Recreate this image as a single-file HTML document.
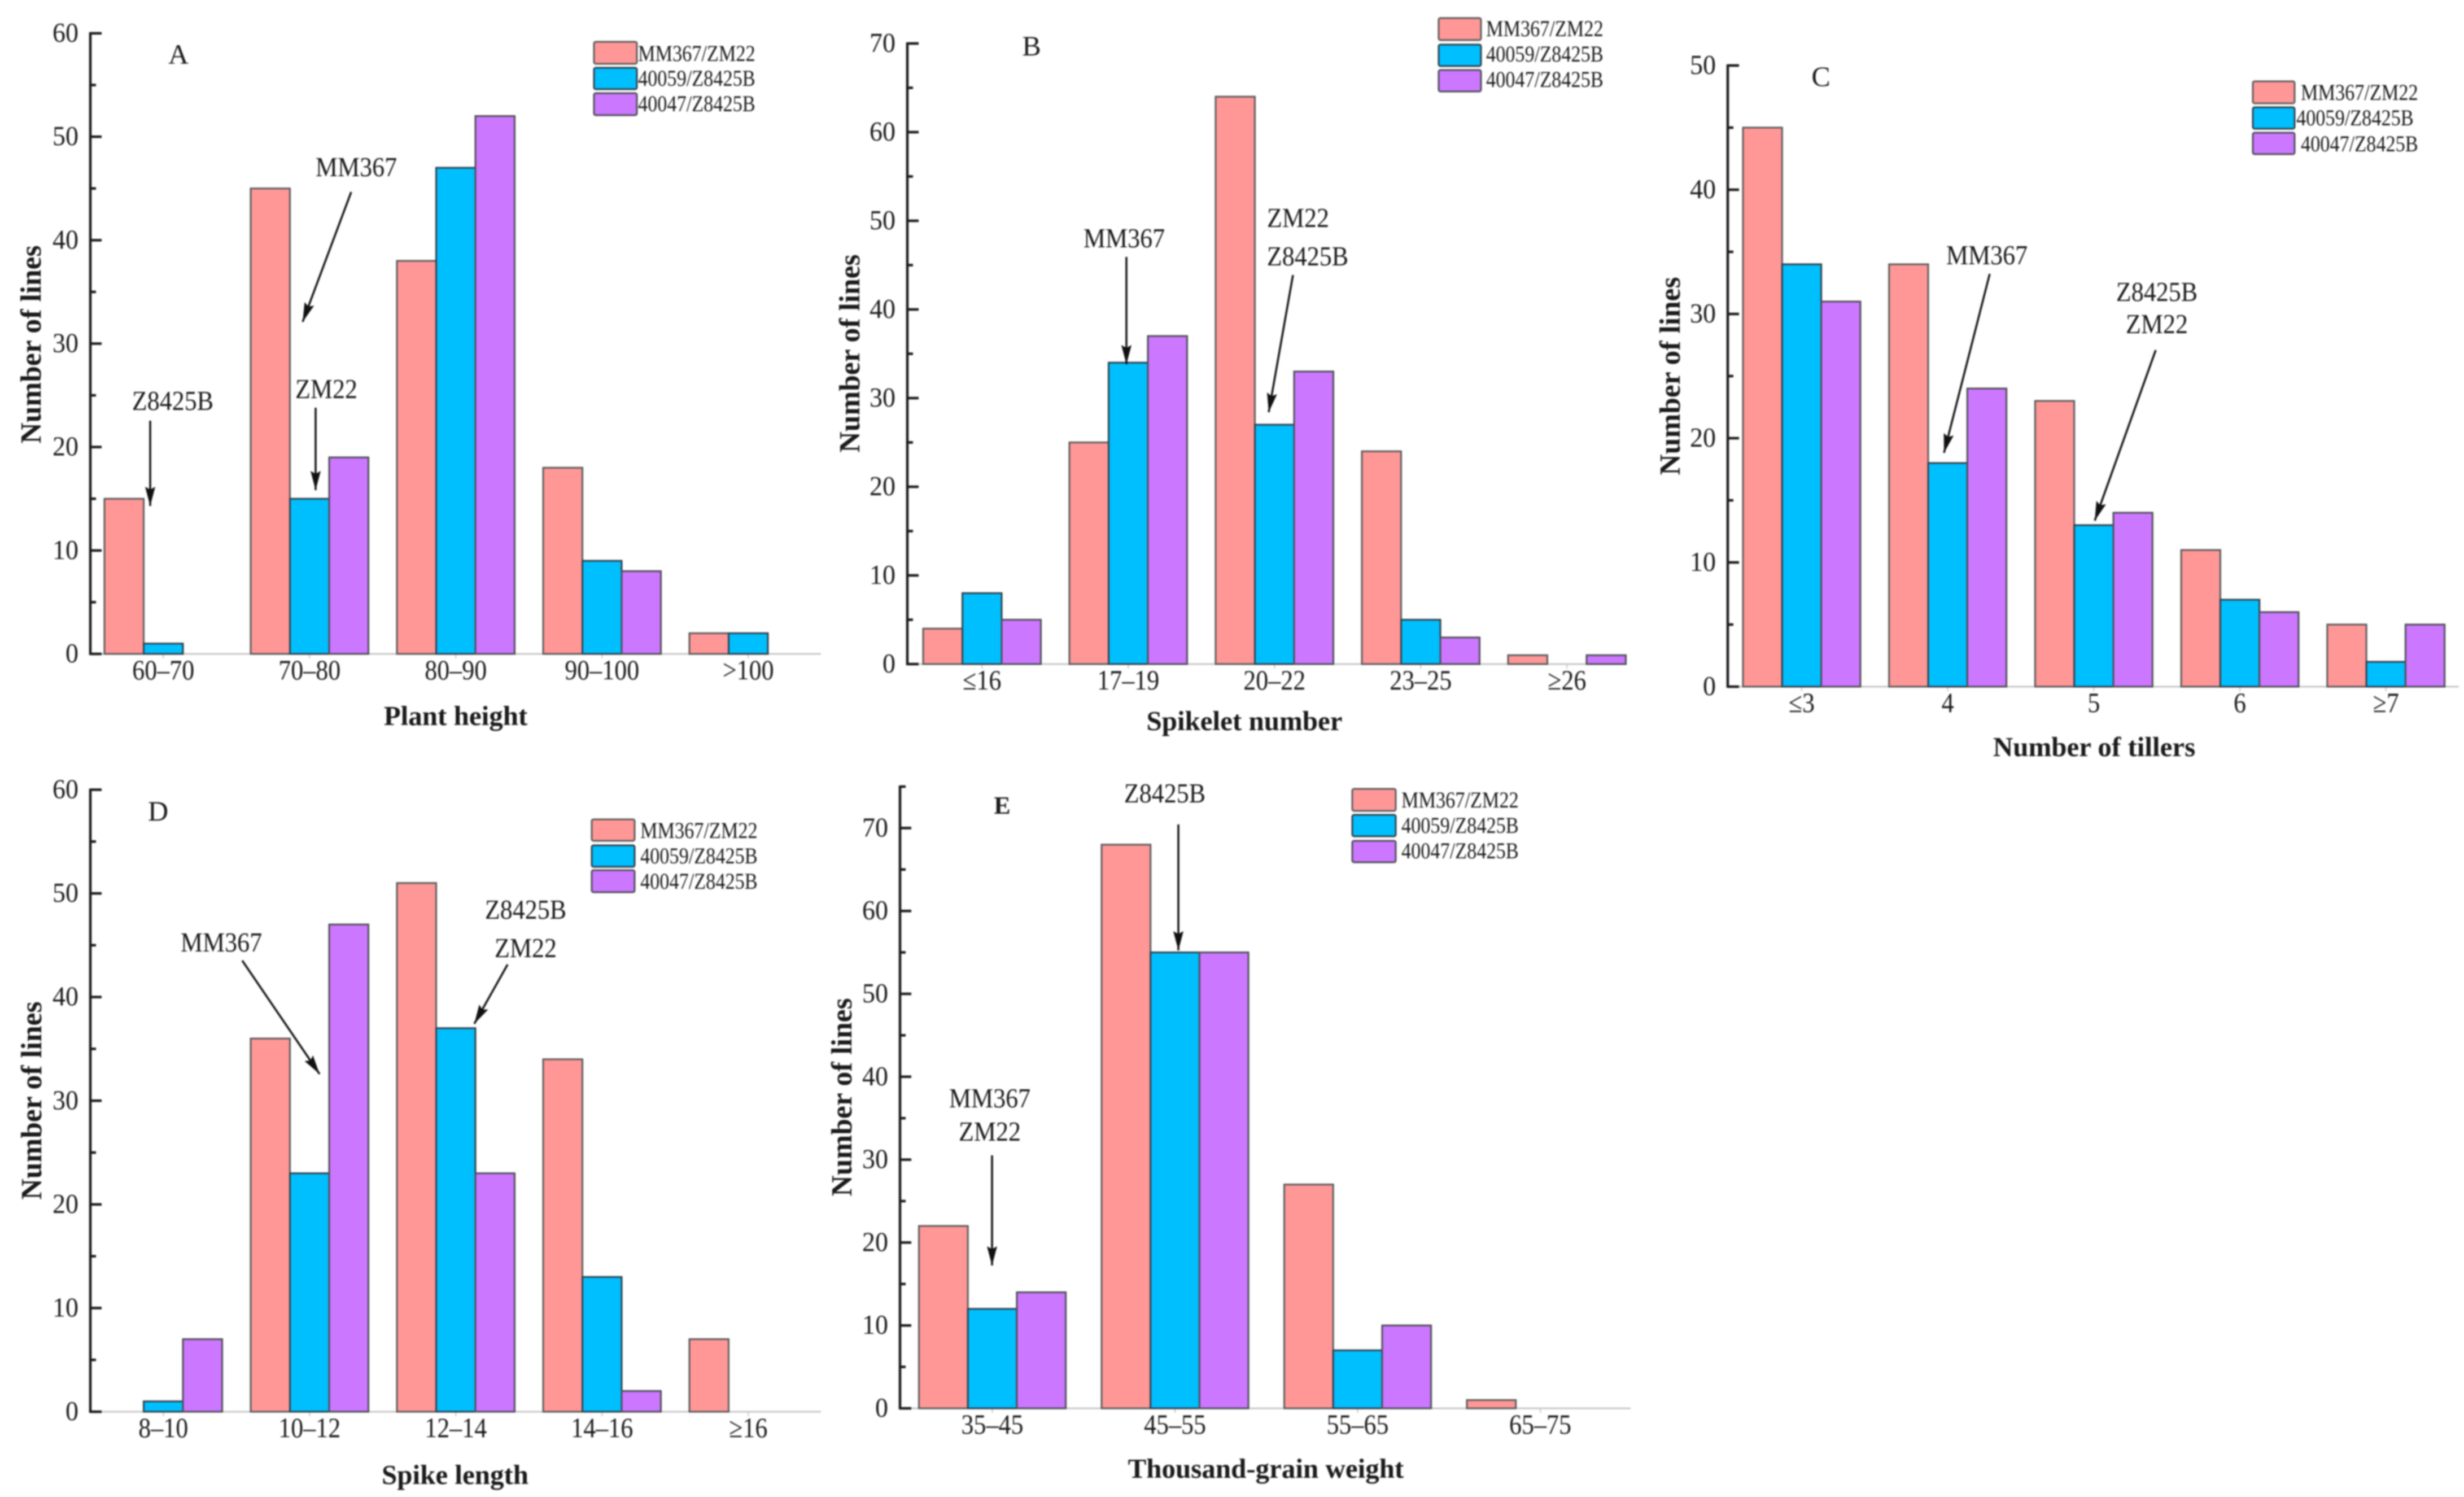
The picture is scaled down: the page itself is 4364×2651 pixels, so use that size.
<!DOCTYPE html>
<html lang="en">
<head>
<meta charset="utf-8">
<title>Distribution of agronomic traits</title>
<style>
  html, body { margin: 0; padding: 0; background: #fff; }
  svg { display: block; filter: blur(1.3px); }
  text { font-family: "Liberation Serif", serif; fill: #1a1a1a; }
  .ann { font-size: 44px; }
  .leg { font-size: 34.3px; }
  .title { font-size: 49px; font-weight: bold; }
  .ytitle { font-size: 51.5px; font-weight: bold; text-anchor: middle; }
  .letter { font-size: 50px; text-anchor: middle; }
  .arrow { stroke: #111; stroke-width: 3.5; marker-end: url(#arrowhead); fill: none; }
  .s1 { fill: #FF9797; stroke: #5a5a5a; stroke-width: 3; }
  .s2 { fill: #00BFFF; stroke: #2f3f4a; stroke-width: 3; }
  .s3 { fill: #CC77FF; stroke: #4d4d55; stroke-width: 3; }
</style>
</head>
<body>
<svg id="figure" xmlns="http://www.w3.org/2000/svg" width="4364" height="2651" viewBox="0 0 4364 2651">
  <defs>
    <marker id="arrowhead" markerUnits="userSpaceOnUse" markerWidth="36" markerHeight="20" refX="34" refY="10" orient="auto">
      <path d="M0,1 L34,10 L0,19 L5,10 Z" fill="#111"></path>
    </marker>
  </defs>
  <rect width="4364" height="2651" fill="#fff"></rect>

  <g id="plot-a"></g>
  <g id="plot-b"></g>
  <g id="plot-c"></g>
  <g id="plot-d"></g>
  <g id="plot-e"></g>

  <!-- Panel letters -->
  <text class="letter" x="316" y="113">A</text>
  <text class="letter" x="1827" y="98">B</text>
  <text class="letter" x="3225" y="152">C</text>
  <text class="letter" x="280" y="1453">D</text>
  <text class="letter" x="1775" y="1441" style="font-size:44px;font-weight:bold">E</text>

  <!-- X axis titles -->
  <text class="title" text-anchor="middle" x="807" y="1284">Plant height</text>
  <text class="title" text-anchor="middle" x="2204" y="1293">Spikelet number</text>
  <text class="title" text-anchor="middle" x="3709" y="1339">Number of tillers</text>
  <text class="title" text-anchor="middle" x="806" y="2628">Spike length</text>
  <text class="title" text-anchor="middle" x="2242" y="2617">Thousand-grain weight</text>

  <!-- Y axis titles -->
  <text class="ytitle" transform="translate(72,610) rotate(-90)">Number of lines</text>
  <text class="ytitle" transform="translate(1522,626) rotate(-90)">Number of lines</text>
  <text class="ytitle" transform="translate(2975,666) rotate(-90)">Number of lines</text>
  <text class="ytitle" transform="translate(73,1949) rotate(-90)">Number of lines</text>
  <text class="ytitle" transform="translate(1508,1943) rotate(-90)">Number of lines</text>

  <!-- Annotations A -->
  <g>
    <text class="ann" text-anchor="middle" transform="translate(631,312) scale(1,1.1)">MM367</text>
    <line class="arrow" x1="622" y1="340" x2="536" y2="570"></line>
    <text class="ann" text-anchor="middle" transform="translate(578,705) scale(1,1.1)">ZM22</text>
    <line class="arrow" x1="559" y1="722" x2="559" y2="868"></line>
    <text class="ann" text-anchor="middle" transform="translate(306,726) scale(1,1.1)">Z8425B</text>
    <line class="arrow" x1="266" y1="745" x2="266" y2="896"></line>
  </g>
  <!-- Annotations B -->
  <g>
    <text class="ann" text-anchor="middle" transform="translate(1991,438) scale(1,1.1)">MM367</text>
    <line class="arrow" x1="1995" y1="455" x2="1995" y2="645"></line>
    <text class="ann" text-anchor="middle" transform="translate(2299,402) scale(1,1.1)">ZM22</text>
    <text class="ann" text-anchor="middle" transform="translate(2316,470) scale(1,1.1)">Z8425B</text>
    <line class="arrow" x1="2290" y1="487" x2="2247" y2="730"></line>
  </g>
  <!-- Annotations C -->
  <g>
    <text class="ann" text-anchor="middle" transform="translate(3519,468) scale(1,1.1)">MM367</text>
    <line class="arrow" x1="3524" y1="485" x2="3443" y2="802"></line>
    <text class="ann" text-anchor="middle" transform="translate(3820,533) scale(1,1.1)">Z8425B</text>
    <text class="ann" text-anchor="middle" transform="translate(3820,590) scale(1,1.1)">ZM22</text>
    <line class="arrow" x1="3818" y1="620" x2="3710" y2="922"></line>
  </g>
  <!-- Annotations D -->
  <g>
    <text class="ann" text-anchor="middle" transform="translate(392,1685) scale(1,1.1)">MM367</text>
    <line class="arrow" x1="429" y1="1701" x2="566" y2="1902"></line>
    <text class="ann" text-anchor="middle" transform="translate(931,1627) scale(1,1.1)">Z8425B</text>
    <text class="ann" text-anchor="middle" transform="translate(931,1695) scale(1,1.1)">ZM22</text>
    <line class="arrow" x1="899" y1="1708" x2="840" y2="1813"></line>
  </g>
  <!-- Annotations E -->
  <g>
    <text class="ann" text-anchor="middle" transform="translate(2063,1421) scale(1,1.1)">Z8425B</text>
    <line class="arrow" x1="2087" y1="1460" x2="2087" y2="1683"></line>
    <text class="ann" text-anchor="middle" transform="translate(1753,1961) scale(1,1.1)">MM367</text>
    <text class="ann" text-anchor="middle" transform="translate(1753,2020) scale(1,1.1)">ZM22</text>
    <line class="arrow" x1="1757" y1="2046" x2="1757" y2="2241"></line>
  </g>

  <!-- Legend A -->
  <g>
    <rect class="s1" x="1052" y="74" width="76" height="39" rx="3"></rect>
    <text class="leg" transform="translate(1130,108) scale(1,1.18)">MM367/ZM22</text>
    <rect class="s2" x="1052" y="120" width="76" height="38" rx="3"></rect>
    <text class="leg" transform="translate(1130,152) scale(1,1.18)">40059/Z8425B</text>
    <rect class="s3" x="1052" y="165" width="76" height="39" rx="3"></rect>
    <text class="leg" transform="translate(1130,197) scale(1,1.18)">40047/Z8425B</text>
  </g>
  <!-- Legend B -->
  <g>
    <rect class="s1" x="2548" y="32" width="75" height="39" rx="3"></rect>
    <text class="leg" transform="translate(2632,64) scale(1,1.18)">MM367/ZM22</text>
    <rect class="s2" x="2548" y="79" width="75" height="38" rx="3"></rect>
    <text class="leg" transform="translate(2632,109) scale(1,1.18)">40059/Z8425B</text>
    <rect class="s3" x="2548" y="124" width="75" height="38" rx="3"></rect>
    <text class="leg" transform="translate(2632,154) scale(1,1.18)">40047/Z8425B</text>
  </g>
  <!-- Legend C -->
  <g>
    <rect class="s1" x="3990" y="144" width="74" height="39" rx="3"></rect>
    <text class="leg" transform="translate(4075,177) scale(1,1.18)">MM367/ZM22</text>
    <rect class="s2" x="3990" y="190" width="74" height="38" rx="3"></rect>
    <text class="leg" transform="translate(4067,222) scale(1,1.18)">40059/Z8425B</text>
    <rect class="s3" x="3990" y="235" width="74" height="38" rx="3"></rect>
    <text class="leg" transform="translate(4075,268) scale(1,1.18)">40047/Z8425B</text>
  </g>
  <!-- Legend D -->
  <g>
    <rect class="s1" x="1048" y="1451" width="76" height="38" rx="3"></rect>
    <text class="leg" transform="translate(1134,1484) scale(1,1.18)">MM367/ZM22</text>
    <rect class="s2" x="1048" y="1497" width="76" height="38" rx="3"></rect>
    <text class="leg" transform="translate(1134,1529) scale(1,1.18)">40059/Z8425B</text>
    <rect class="s3" x="1048" y="1541" width="76" height="39" rx="3"></rect>
    <text class="leg" transform="translate(1134,1574) scale(1,1.18)">40047/Z8425B</text>
  </g>
  <!-- Legend E -->
  <g>
    <rect class="s1" x="2395" y="1397" width="77" height="39" rx="3"></rect>
    <text class="leg" transform="translate(2482,1430) scale(1,1.18)">MM367/ZM22</text>
    <rect class="s2" x="2395" y="1443" width="77" height="38" rx="3"></rect>
    <text class="leg" transform="translate(2482,1475) scale(1,1.18)">40059/Z8425B</text>
    <rect class="s3" x="2395" y="1489" width="77" height="38" rx="3"></rect>
    <text class="leg" transform="translate(2482,1520) scale(1,1.18)">40047/Z8425B</text>
  </g>
</svg>

<script>
// ---- Chart data ----
const seriesKeys = ['mm367-zm22', '40059-z8425b', '40047-z8425b'];

const plantHeightCategories = ['60–70', '70–80', '80–90', '90–100', '>100'];
const plantHeightMM367 = [15, 45, 38, 18, 2];
const plantHeight40059 = [1, 15, 47, 9, 2];
const plantHeight40047 = [0, 19, 52, 8, 0];
const plantHeightTicks = [0, 10, 20, 30, 40, 50, 60];
const plantHeightMinorTicks = [5, 15, 25, 35, 45, 55];

const spikeletCategories = ['≤16', '17–19', '20–22', '23–25', '≥26'];
const spikeletMM367 = [4, 25, 64, 24, 1];
const spikelet40059 = [8, 34, 27, 5, 0];
const spikelet40047 = [5, 37, 33, 3, 1];
const spikeletTicks = [0, 10, 20, 30, 40, 50, 60, 70];
const spikeletMinorTicks = [5, 15, 25, 35, 45, 55, 65];

const tillerCategories = ['≤3', '4', '5', '6', '≥7'];
const tillerMM367 = [45, 34, 23, 11, 5];
const tiller40059 = [34, 18, 13, 7, 2];
const tiller40047 = [31, 24, 14, 6, 5];
const tillerTicks = [0, 10, 20, 30, 40, 50];
const tillerMinorTicks = [5, 15, 25, 35, 45];

const spikeLengthCategories = ['8–10', '10–12', '12–14', '14–16', '≥16'];
const spikeLengthMM367 = [0, 36, 51, 34, 7];
const spikeLength40059 = [1, 23, 37, 13, 0];
const spikeLength40047 = [7, 47, 23, 2, 0];
const spikeLengthTicks = [0, 10, 20, 30, 40, 50, 60];
const spikeLengthMinorTicks = [5, 15, 25, 35, 45, 55];

const grainWeightCategories = ['35–45', '45–55', '55–65', '65–75'];
const grainWeightMM367 = [22, 68, 27, 1];
const grainWeight40059 = [12, 55, 7, 0];
const grainWeight40047 = [14, 55, 10, 0];
const grainWeightTicks = [0, 10, 20, 30, 40, 50, 60, 70];
const grainWeightMinorTicks = [5, 15, 25, 35, 45, 55, 65, 75];

// ---- Drawing ----
const SVG_NS = 'http://www.w3.org/2000/svg';

function make(parent, tag, attrs) {
  const el = document.createElementNS(SVG_NS, tag);
  for (const k in attrs) el.setAttribute(k, attrs[k]);
  parent.appendChild(el);
  return el;
}

function drawPanel(cfg) {
  const root = document.getElementById(cfg.id);
  const yAxis = function (v) {
    return cfg.y0 - (v / cfg.domainMax) * (cfg.y0 - cfg.yTop);
  };
  const xGroup = function (g) {
    return cfg.barStart + g * cfg.period;
  };

  // x axis line
  const xLine = make(root, 'line', { x1: cfg.axisX, y1: cfg.y0, x2: cfg.xEnd, y2: cfg.y0, stroke: '#c8c8c8', 'stroke-width': 3 });
  
  

  // x ticks and labels
  cfg.categories.forEach(function (cat, g) {
    const cx = xGroup(g) + cfg.barWidth * 1.5;
    const tick = make(root, 'line', { x1: cx, y1: cfg.y0, x2: cx, y2: cfg.y0 + 8, stroke: '#c8c8c8', 'stroke-width': 2 });
    
    
    const label = make(root, 'text', { 'text-anchor': 'middle', 'font-size': 44, transform: 'translate(' + cx + ',' + (cfg.y0 + 45) + ') scale(1,1.14)' });
    label.textContent = cat;
    
    
  });

  // bars
  cfg.series.forEach(function (values, s) {
    values.forEach(function (v, g) {
      if (v <= 0) return;
      const top = yAxis(v);
      const bar = make(root, 'rect', {
        class: 's' + (s + 1),
        x: xGroup(g) + s * cfg.barWidth,
        y: top,
        width: cfg.barWidth,
        height: cfg.y0 - top
      });
      
      
    });
  });

  // y axis
  const axisColor = '#1a1a1a';
  const yLine = make(root, 'line', { x1: cfg.axisX, y1: cfg.y0 + 2, x2: cfg.axisX, y2: cfg.yTop - 2, stroke: axisColor, 'stroke-width': 4.5 });
  
  

  cfg.ticks.forEach(function (t) {
    const y = yAxis(t);
    const tick = make(root, 'line', { x1: cfg.axisX, y1: y, x2: cfg.axisX + 20, y2: y, stroke: axisColor, 'stroke-width': 4.5 });
    
    
    const label = make(root, 'text', { 'text-anchor': 'end', 'font-size': 46, transform: 'translate(' + (cfg.axisX - 21) + ',' + (y + 15) + ') scale(1,1.05)' });
    label.textContent = t;
    
    
  });

  cfg.minorTicks.forEach(function (t) {
    const y = yAxis(t);
    const tick = make(root, 'line', { x1: cfg.axisX, y1: y, x2: cfg.axisX + 10, y2: y, stroke: axisColor, 'stroke-width': 4.5 });
    
    
  });
}

drawPanel({
  id: 'plot-a', axisX: 160, xEnd: 1454, y0: 1158, yTop: 59, domainMax: 60,
  barStart: 185, barWidth: 69.5, period: 259,
  categories: plantHeightCategories,
  series: [plantHeightMM367, plantHeight40059, plantHeight40047],
  ticks: plantHeightTicks, minorTicks: plantHeightMinorTicks
});
drawPanel({
  id: 'plot-b', axisX: 1607, xEnd: 2878, y0: 1176, yTop: 77, domainMax: 70,
  barStart: 1635, barWidth: 69.5, period: 259,
  categories: spikeletCategories,
  series: [spikeletMM367, spikelet40059, spikelet40047],
  ticks: spikeletTicks, minorTicks: spikeletMinorTicks
});
drawPanel({
  id: 'plot-c', axisX: 3060, xEnd: 4355, y0: 1216, yTop: 116, domainMax: 50,
  barStart: 3087, barWidth: 69.3, period: 258.7,
  categories: tillerCategories,
  series: [tillerMM367, tiller40059, tiller40047],
  ticks: tillerTicks, minorTicks: tillerMinorTicks
});
drawPanel({
  id: 'plot-d', axisX: 160, xEnd: 1454, y0: 2500, yTop: 1398.5, domainMax: 60,
  barStart: 185, barWidth: 69.5, period: 259,
  categories: spikeLengthCategories,
  series: [spikeLengthMM367, spikeLength40059, spikeLength40047],
  ticks: spikeLengthTicks, minorTicks: spikeLengthMinorTicks
});
drawPanel({
  id: 'plot-e', axisX: 1594, xEnd: 2888, y0: 2494, yTop: 1393, domainMax: 75,
  barStart: 1627.5, barWidth: 86.7, period: 323.5,
  categories: grainWeightCategories,
  series: [grainWeightMM367, grainWeight40059, grainWeight40047],
  ticks: grainWeightTicks, minorTicks: grainWeightMinorTicks
});
</script>
</body>
</html>
